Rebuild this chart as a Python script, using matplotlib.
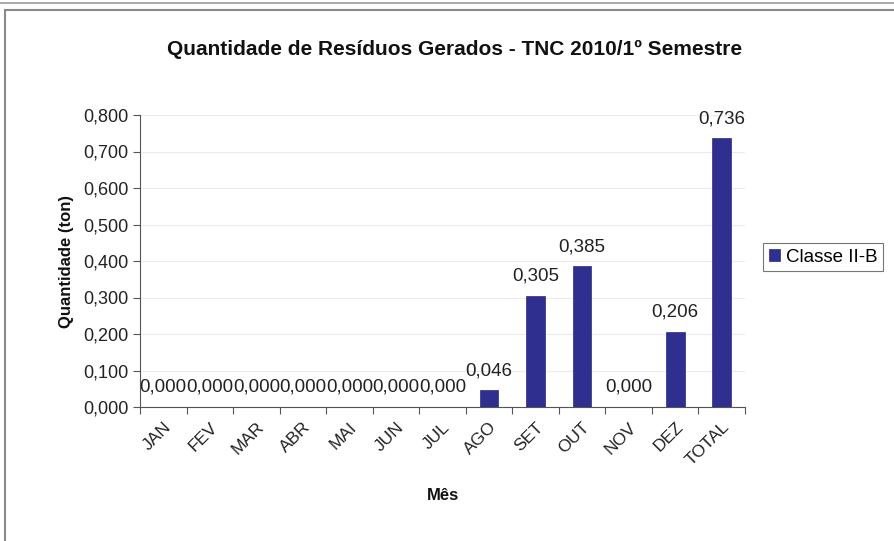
import matplotlib
matplotlib.use("Agg")
import matplotlib.pyplot as plt
from matplotlib.patches import Rectangle
from matplotlib.ticker import FuncFormatter, FixedLocator, NullFormatter
from matplotlib.transforms import ScaledTranslation

plt.rcParams['font.family'] = ['Liberation Sans', 'DejaVu Sans']

categories = ["JAN", "FEV", "MAR", "ABR", "MAI", "JUN", "JUL", "AGO", "SET", "OUT", "NOV", "DEZ", "TOTAL"]
values = [0.000, 0.000, 0.000, 0.000, 0.000, 0.000, 0.000, 0.046, 0.305, 0.385, 0.000, 0.206, 0.736]
series_name = "Classe II-B"
title = "Quantidade de Resíduos Gerados - TNC 2010/1º Semestre"
xlabel = "Mês"
ylabel = "Quantidade (ton)"
yticks = [0.0, 0.1, 0.2, 0.3, 0.4, 0.5, 0.6, 0.7, 0.8]

fig = plt.figure(figsize=(8.94, 5.41), dpi=100)
fig.patch.set_facecolor("white")

# outer chart frame
fig.patches.append(Rectangle((5/894, -0.01), 1.0, 1 - 10/541 + 0.01, transform=fig.transFigure,
                             fill=False, edgecolor="#8a8a8a", linewidth=1.5))
fig.add_artist(plt.Line2D([0, 1], [1 - 3/541, 1 - 3/541], transform=fig.transFigure,
                          color="#9a9a9a", linewidth=1.2))

ax = fig.add_axes([140/894, 1 - 407/541, (745 - 140)/894, (407 - 115)/541])
n = len(categories)
x = list(range(n))
bars = ax.bar(x, values, width=0.4, color="#2f2f8f", edgecolor="#2a2a80", linewidth=0.5,
              label=series_name, zorder=3)

ax.set_xlim(-0.5, n - 0.5)
ax.set_ylim(0, 0.8)
ax.set_yticks(yticks)
ax.yaxis.set_major_formatter(FuncFormatter(lambda v, p: f"{v:.3f}".replace(".", ",")))
ax.grid(axis="y", color="#ececec", linewidth=0.8, zorder=0)

# category boundary ticks (Excel style) and centered labels
ax.xaxis.set_major_locator(FixedLocator([i - 0.5 for i in range(n + 1)]))
ax.xaxis.set_major_formatter(NullFormatter())
ax.xaxis.set_minor_locator(FixedLocator(x))
ax.set_xticklabels(categories, minor=True, rotation=45, ha="right", rotation_mode="anchor",
                   fontsize=12.5, color="#222222")
shift = ScaledTranslation(-6/100, 0, fig.dpi_scale_trans)
for lbl in ax.get_xticklabels(minor=True):
    lbl.set_transform(lbl.get_transform() + shift)
ax.tick_params(axis="x", which="minor", length=0, pad=9)
ax.tick_params(axis="x", which="major", length=5, color="#555555")
ax.tick_params(axis="y", length=5, color="#555555", labelsize=13, labelcolor="#222222")

for s in ["top", "right"]:
    ax.spines[s].set_visible(False)
for s in ["left", "bottom"]:
    ax.spines[s].set_color("#555555")

for xi, v in zip(x, values):
    ax.annotate(f"{v:.3f}".replace(".", ","), (xi, v), xytext=(0, 8), textcoords="offset points",
                ha="center", va="bottom", fontsize=13.5, color="#222222", annotation_clip=False)

fig.text(455/894, 1 - 49/541, title, ha="center", va="center",
         fontsize=15, fontweight="bold", color="#111111")
ax.set_xlabel(xlabel, fontsize=12, fontweight="bold", color="#111111", labelpad=14)
ax.set_ylabel(ylabel, fontsize=12, fontweight="bold", color="#111111", labelpad=6)

leg = ax.legend(loc="center left", bbox_to_anchor=(763/894, 1 - 257/541), bbox_transform=fig.transFigure,
                fontsize=13.5, frameon=True, fancybox=False, edgecolor="#555555", borderaxespad=0,
                handlelength=0.6, handleheight=0.6, handletextpad=0.3, borderpad=0.3)
leg.get_frame().set_linewidth(0.8)

fig.savefig("out.png", dpi=100)
